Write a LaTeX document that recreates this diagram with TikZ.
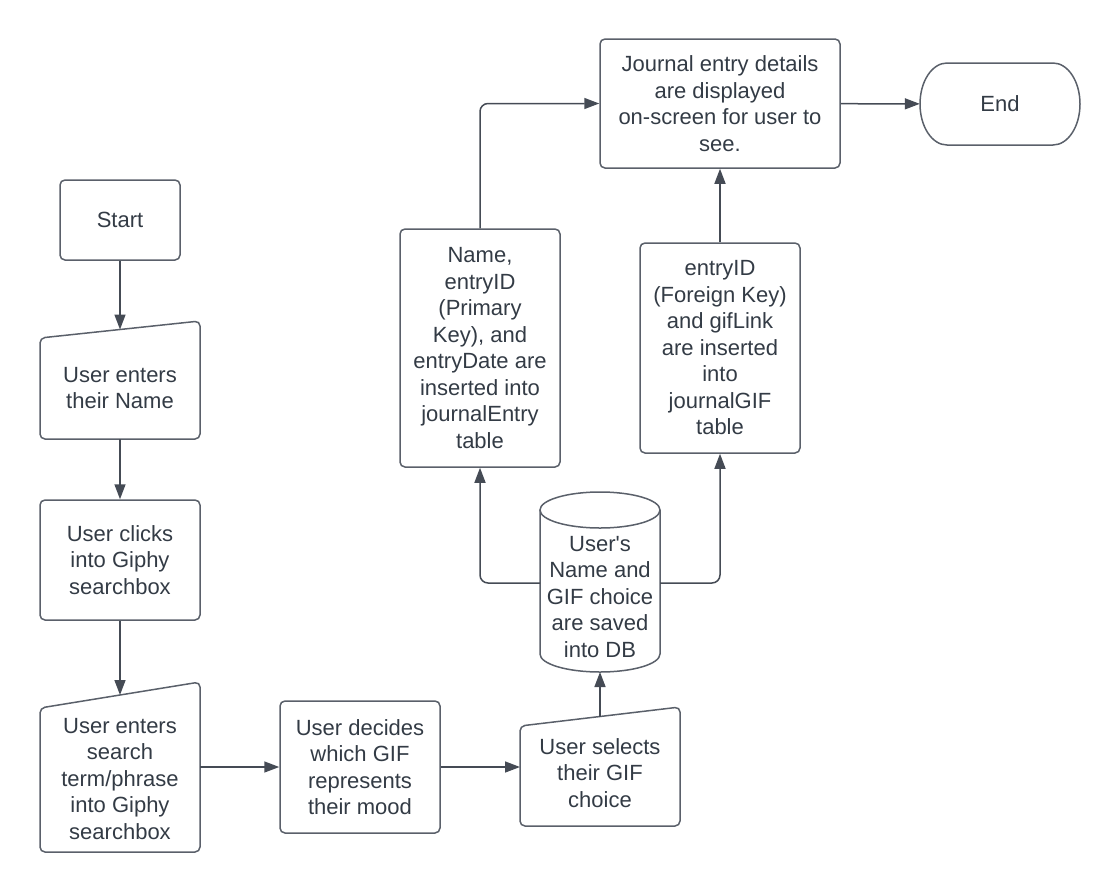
\documentclass[tikz,border=0pt]{standalone}
\usepackage{fontspec}
\setmainfont{Liberation Sans}[Ligatures=TeXOff]
\usetikzlibrary{arrows.meta}
\definecolor{ink}{HTML}{333B45}
\definecolor{edge}{HTML}{5A606A}
\definecolor{wire}{HTML}{454B55}

\begin{document}
\begin{tikzpicture}[x=1pt,y=-1pt,
  every node/.style={font=\fontsize{22}{26.5}\selectfont, text=ink, align=center},
  boxed/.style={draw=edge, line width=1.5pt, rounded corners=5pt, minimum width=160pt, inner sep=0pt},
  outline/.style={draw=edge, line width=1.5pt, rounded corners=5pt},
  txt/.style={inner sep=0pt},
  link/.style={draw=wire, line width=1.5pt, -{Triangle[length=15pt,width=11pt]}, rounded corners=8pt}
]
\useasboundingbox (0,0) rectangle (1120,892);

% Start terminal
\node[boxed, minimum width=120pt, minimum height=80pt] (start) at (120,220) {Start};

% Manual input: name
\draw[outline] (40,439) -- (40,338) -- (200,321) -- (200,439) -- cycle;
\node[txt] (name) at (120,388) {User enters\\their Name};
\coordinate (name-top) at (120,329.5);
\coordinate (name-bot) at (120,439);

% Process: search box
\node[boxed, minimum height=120pt] (clicks) at (120,560) {User clicks\\into Giphy\\searchbox};

% Manual input: search term
\draw[outline] (40,852) -- (40,708) -- (200,682) -- (200,852) -- cycle;
\node[txt] (search) at (120,779) {User enters\\search\\term/phrase\\into Giphy\\searchbox};
\coordinate (search-top) at (120,695);
\coordinate (search-right) at (200,767);

% Process: decision on GIF
\node[boxed, minimum height=132pt] (decide) at (360,767) {User decides\\which GIF\\represents\\their mood};

% Manual input: selection
\draw[outline] (520,826) -- (520,726) -- (680,707) -- (680,826) -- cycle;
\node[txt] (select) at (600,773) {User selects\\their GIF\\choice};
\coordinate (select-top) at (600,716.5);
\coordinate (select-left) at (520,767);

% Database cylinder
\draw[draw=edge, line width=1.5pt] (540,510) -- (540,654)
  arc[start angle=180, end angle=360, x radius=60pt, y radius=18pt] -- (660,510);
\draw[draw=edge, line width=1.5pt] (600,510) ellipse [x radius=60pt, y radius=18pt];
\node[txt] (db) at (600,597) {User's\\Name and\\GIF choice\\are saved\\into DB};
\coordinate (db-left) at (540,583);
\coordinate (db-right) at (660,583);
\coordinate (db-bot) at (600,672);

% Table inserts
\node[boxed, minimum height=238pt] (entry) at (480,348) {Name,\\entryID\\(Primary\\Key), and\\entryDate are\\inserted into\\journalEntry\\table};
\node[boxed, minimum height=210pt] (gif) at (720,348) {entryID\\(Foreign Key)\\and gifLink\\are inserted\\into\\journalGIF\\table};

% Display
\node[boxed, minimum width=240pt, minimum height=129pt] (journal) at (720,103.5) {Journal entry details\\are displayed\\on-screen for user to\\see.};

% End terminal
\draw[draw=edge, line width=1.5pt] (947,63) -- (1053,63)
  arc[start angle=90, end angle=-90, x radius=27pt, y radius=41pt] -- (947,145)
  arc[start angle=270, end angle=90, x radius=27pt, y radius=41pt] -- cycle;
\node[inner sep=0pt, minimum width=160pt, minimum height=82pt] (end) at (1000,104) {End};

% Connectors
\draw[link] (start) -- (name-top);
\draw[link] (name-bot) -- (clicks);
\draw[link] (clicks) -- (search-top);
\draw[link] (search-right) -- (decide);
\draw[link] (decide) -- (select-left);
\draw[link] (select-top) -- (db-bot);
\draw[link] (db-left) -| (entry);
\draw[link] (db-right) -| (gif);
\draw[link] (entry) |- (journal);
\draw[link] (gif) -- (journal);
\draw[link] (journal) -- (end);
\end{tikzpicture}
\end{document}
